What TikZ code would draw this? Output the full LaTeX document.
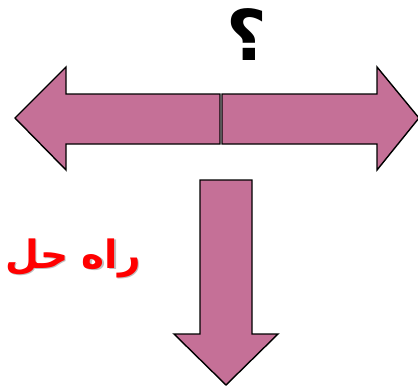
\documentclass[tikz,border=0pt]{standalone}
\usepackage{fontspec}
\TeXXeTstate=1
\newfontfamily\arabicfont[Script=Arabic]{DejaVu Sans}
\definecolor{arrowfill}{RGB}{197,112,151}
\definecolor{txtred}{RGB}{255,0,0}
\tikzset{
  bigarrow/.style={fill=arrowfill, draw=black, line width=1.4pt, line join=miter},
  soltext/.style={inner sep=0pt, anchor=east, font=\arabicfont\bfseries\fontsize{39}{39}\selectfont},
}
\begin{document}
\begin{tikzpicture}[x=1pt,y=-1pt]
\useasboundingbox (0,0) rectangle (418,388);
\clip (0,0) rectangle (418,388);
% left arrow
\draw[bigarrow] (220,94) -- (66,94) -- (66,67) -- (15,118) -- (66,170) -- (66,144) -- (220,144) -- cycle;
% right arrow
\draw[bigarrow] (222,94) -- (377,94) -- (377,67) -- (419,118) -- (377,170) -- (377,144) -- (222,144) -- cycle;
% down arrow
\draw[bigarrow] (200,180) -- (252,180) -- (252,334) -- (278,334) -- (226,385) -- (174,334) -- (200,334) -- cycle;
% question mark
\node[inner sep=0pt, font=\arabicfont\bfseries\fontsize{70}{70}\selectfont] (q) at (247,35) {\beginR ؟\endR};
% red text with shadow
\node[soltext, text=black!25] (sh) at (142.5,259.5) {\beginR راه حل\endR};
\node[soltext, text=txtred] (sol) at (141,258) {\beginR راه حل\endR};
\end{tikzpicture}
\end{document}
